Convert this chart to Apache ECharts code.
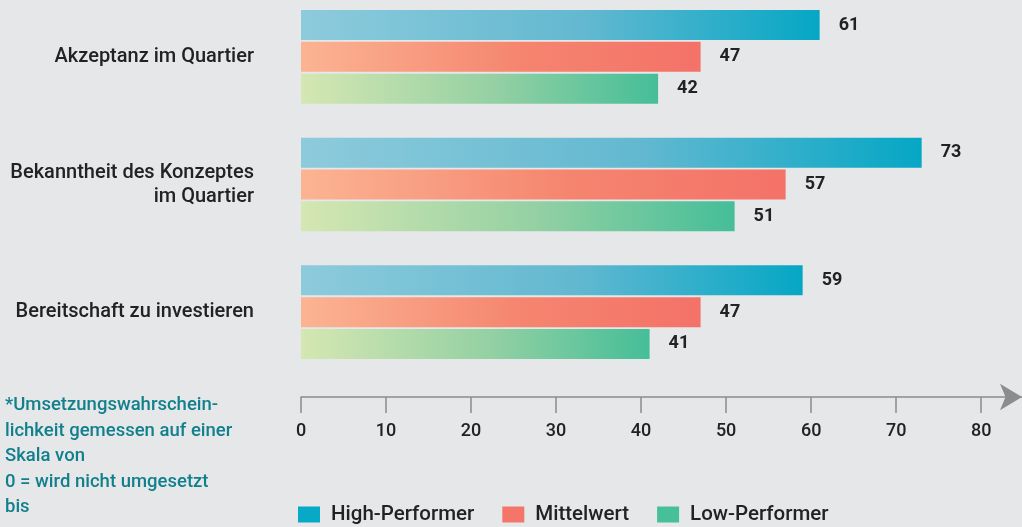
<!DOCTYPE html>
<html>
<head>
<meta charset="utf-8">
<script src="https://cdn.jsdelivr.net/npm/echarts@6/dist/echarts.min.js"></script>
<style>
  html, body { margin: 0; padding: 0; background: #e6e7e9; }
  #chart { width: 1022px; height: 527px; }
</style>
</head>
<body>
<div id="chart"></div>
<script>
// Categories (top to bottom)
const categories = [
  'Akzeptanz im Quartier',
  'Bekanntheit des Konzeptes\nim Quartier',
  'Bereitschaft zu investieren'
];
const seriesNames = ['High-Performer', 'Mittelwert', 'Low-Performer'];
const highPerformer = [61, 73, 59];
const mittelwert = [47, 57, 47];
const lowPerformer = [42, 51, 41];
const tickValues = [0, 10, 20, 30, 40, 50, 60, 70, 80];
const footnote = '*Umsetzungswahrschein-\nlichkeit gemessen auf einer\nSkala von\n0 = wird nicht umgesetzt\nbis';

const FONT = 'Roboto, "Open Sans", sans-serif';

// Solid colours (legend) and left-to-right bar gradients
const solid = ['#07a9c6', '#f4766b', '#47bf98'];
const gradients = [
  ['#8dcbdc', '#62b8d0', '#05a7c5'],
  ['#fbb493', '#f5856f', '#f47268'],
  ['#d5e7b2', '#93d0a3', '#45be98']
];

function grad(stops) {
  return new echarts.graphic.LinearGradient(0, 0, 1, 0, [
    { offset: 0, color: stops[0] },
    { offset: 0.55, color: stops[1] },
    { offset: 1, color: stops[2] }
  ]);
}

const values = [highPerformer, mittelwert, lowPerformer];

const chart = echarts.init(document.getElementById('chart'), null, { renderer: 'canvas' });

chart.setOption({
  backgroundColor: '#e6e7e9',
  animation: false,
  textStyle: { fontFamily: FONT },
  grid: {
    left: 301, top: -7, height: 383, right: 0,
    containLabel: false,
    outerBoundsMode: 'none'
  },
  legend: {
    data: seriesNames.map((n, i) => ({ name: n, itemStyle: { color: solid[i] } })),
    left: 298,
    bottom: 2,
    padding: 0,
    itemWidth: 22,
    itemHeight: 16,
    itemGap: 28,
    icon: 'rect',
    textStyle: { fontSize: 20.5, color: '#222', fontFamily: FONT, fontWeight: 500, padding: [0, 0, 0, 6] }
  },
  xAxis: {
    type: 'value',
    min: 0,
    max: 84.8,
    interval: 10,
    offset: 21,
    splitLine: { show: false },
    axisLine: {
      show: true,
      lineStyle: { color: '#8c8c8c', width: 1.5 },
      symbol: ['none', 'arrow'],
      symbolSize: [20, 22]
    },
    axisTick: {
      show: true,
      length: 16,
      customValues: tickValues,
      lineStyle: { color: '#8c8c8c', width: 1.5 }
    },
    axisLabel: {
      customValues: tickValues,
      margin: 25,
      fontSize: 18,
      fontWeight: 500,
      color: '#222',
      fontFamily: FONT
    }
  },
  yAxis: {
    type: 'category',
    data: categories,
    inverse: true,
    axisLine: { show: false },
    axisTick: { show: false },
    axisLabel: {
      margin: 47,
      fontSize: 20,
      fontWeight: 500,
      color: '#222',
      lineHeight: 24,
      align: 'right',
      fontFamily: FONT
    }
  },
  series: seriesNames.map((name, i) => ({
    name: name,
    type: 'bar',
    data: values[i],
    barWidth: 30,
    barGap: '6%',
    itemStyle: { color: grad(gradients[i]) },
    label: {
      show: true,
      position: 'right',
      distance: 19,
      fontSize: 18,
      fontWeight: 'bold',
      color: '#222',
      fontFamily: FONT
    }
  })),
  graphic: [{
    type: 'text',
    left: 5,
    top: 393,
    style: {
      text: footnote,
      fill: '#12808c',
      fontSize: 18.5,
      fontWeight: 500,
      lineHeight: 25.5,
      fontFamily: FONT
    }
  }]
});
</script>
</body>
</html>
